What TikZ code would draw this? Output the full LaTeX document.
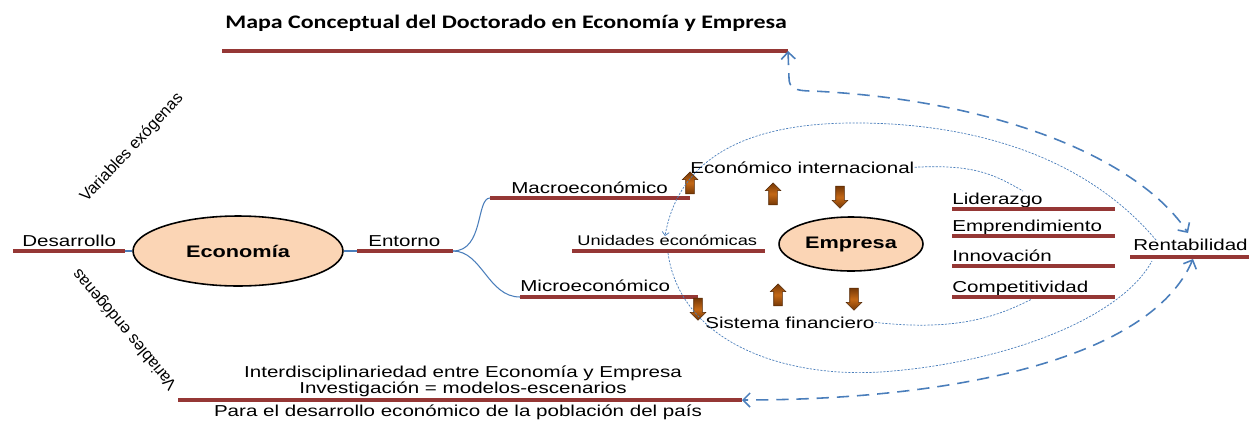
\documentclass[tikz,border=0pt]{standalone}
\usepackage{fontspec}
\setmainfont[FakeStretch=1.3]{Liberation Sans}
\newfontfamily\titulo[FakeStretch=1.25]{Carlito}
\newfontfamily\rotada{Liberation Sans}
\usepackage{tikz}
\usetikzlibrary{shapes,arrows,arrows.meta,positioning}
\definecolor{rojobarra}{RGB}{149,55,53}
\definecolor{durazno}{RGB}{251,213,181}
\definecolor{azul}{RGB}{74,126,187}
\definecolor{cafe}{RGB}{118,56,6}
\definecolor{cafeclaro}{RGB}{196,104,22}
\tikzstyle{concepto}=[inner sep=0pt, anchor=base west, font=\fontsize{9}{10.5}\selectfont]
\tikzstyle{linea}=[draw=rojobarra, line width=2.3pt]
\tikzstyle{elipse}=[ellipse, draw=black, line width=0.9pt, fill=durazno, inner sep=0pt, font=\bfseries\fontsize{9.5}{11}\selectfont]
\tikzstyle{enlace}=[draw=azul, line width=0.6pt]
\tikzstyle{punteado}=[draw=azul, line width=0.4pt, dash pattern=on 1.2pt off 0.8pt]
\tikzstyle{discontinuo}=[draw=azul, line width=0.9pt, dash pattern=on 7pt off 4.5pt, {Straight Barb[length=4pt,width=8pt]}-{Straight Barb[length=4pt,width=8pt]}]
\tikzstyle{flecha}=[single arrow, draw=cafe!70!black, line width=0.3pt, top color=cafe, bottom color=cafe, middle color=cafeclaro, minimum height=0.44cm, inner xsep=0pt, inner ysep=0.08cm, single arrow head extend=0.07cm]
\tikzstyle{girado}=[inner sep=0pt, font=\rotada\fontsize{9.3}{11}\selectfont]

\begin{document}
\begin{tikzpicture}[x=0.02cm, y=-0.02cm]
    \useasboundingbox (0,0) rectangle (1249,420);

    \node (titulo) [anchor=base west, inner sep=0pt, font=\titulo\bfseries\fontsize{10.9}{13}\selectfont] at (225,28)
        {Mapa Conceptual del Doctorado en Economía y Empresa};
    \draw[linea] (222,51) coordinate (tituloL) -- (788,51) coordinate (tituloR);

    \node (exo) [girado, rotate=47] at (132,148) {Variables exógenas};
    \node (endo) [girado, rotate=130] at (125,329) {Variables endógenas};

    \node (econ) [elipse, minimum width=4.2cm, minimum height=1.4cm] at (238,251) {Economía};
    \node (empresa) [elipse, minimum width=2.88cm, minimum height=1.08cm] at (851,244) {Empresa};

    \node (desa) [concepto] at (22,246) {Desarrollo};
    \draw[linea] (13,251) coordinate (desaL) -- (125,251) coordinate (desaR);
    \node (entorno) [concepto] at (368,246) {Entorno};
    \draw[linea] (357,251) coordinate (entornoL) -- (453,251) coordinate (entornoR);
    \node (macro) [concepto] at (511,193) {Macroeconómico};
    \draw[linea] (490,198) coordinate (macroL) -- (690,198) coordinate (macroR);
    \node (micro) [concepto] at (520,291) {Microeconómico};
    \draw[linea] (520,297) coordinate (microL) -- (698,297) coordinate (microR);
    \node (unid) [concepto, font=\fontsize{8}{9.5}\selectfont] at (577,245) {Unidades económicas};
    \draw[linea] (572,251) coordinate (unidL) -- (765,251) coordinate (unidR);
    \node (intl) [concepto] at (690,173) {Económico internacional};
    \node (sist) [concepto] at (705,328) {Sistema financiero};

    \node (lid) [concepto] at (952,204) {Liderazgo};
    \draw[linea] (952,209) -- (1115,209) coordinate (lidR);
    \node (empr) [concepto] at (952,231) {Emprendimiento};
    \draw[linea] (952,236) -- (1115,236);
    \node (innov) [concepto] at (952,261) {Innovación};
    \draw[linea] (952,266) -- (1115,266);
    \node (comp) [concepto] at (952,292) {Competitividad};
    \draw[linea] (952,297) -- (1115,297) coordinate (compR);
    \node (rent) [concepto] at (1133,250) {Rentabilidad};
    \draw[linea] (1130,257) coordinate (rentL) -- (1249,257) coordinate (rentR);

    \node (inter) [inner sep=0pt, anchor=base, font=\fontsize{9}{10.5}\selectfont] at (463,377) {Interdisciplinariedad entre Economía y Empresa};
    \node (inves) [inner sep=0pt, anchor=base, font=\fontsize{9}{10.5}\selectfont] at (463,393) {Investigación = modelos-escenarios};
    \draw[linea] (178,400) coordinate (pieL) -- (742,400) coordinate (pieR);
    \node (para) [inner sep=0pt, anchor=base, font=\fontsize{9}{10.5}\selectfont] at (458,416) {Para el desarrollo económico de la población del país};

    \node (f1) [flecha, rotate=90] at (690,185) {};
    \node (f2) [flecha, rotate=90] at (773,196) {};
    \node (f3) [flecha, rotate=-90] at (840,195) {};
    \node (f4) [flecha, rotate=-90] at (698,307) {};
    \node (f5) [flecha, rotate=90] at (778,297) {};
    \node (f6) [flecha, rotate=-90] at (854,297) {};

    \coordinate (lidArriba) at (1023,191);
    \coordinate (compAbajo) at (1032,299);
    \coordinate (rentArriba) at (1156,240);
    \coordinate (rentAbajo) at (1152,261);
    \coordinate (unidArriba) at (665,236);
    \coordinate (unidAbajo) at (668,253);
    \coordinate (rentFlechaA) at (1188,233);
    \coordinate (rentFlechaB) at (1193,259);

    \draw[enlace] (desaR) -- (econ);
    \draw[enlace] (econ) -- (entornoL);
    \draw[enlace] (entornoR) .. controls (484,251) and (476,198) .. (macroL);
    \draw[enlace] (entornoR) .. controls (482,251) and (488,297) .. (microL);

    \draw[punteado] (intl.east) .. controls (975,164) and (995,175) .. (lidArriba);
    \draw[punteado] (sist.east) .. controls (960,332) and (1000,315) .. (compAbajo);
    \draw[punteado, -{Straight Barb[length=2pt,width=4pt]}] (rentArriba) .. controls (1080,150) and (960,122) .. (850,123)
        .. controls (740,124) and (678,162) .. (unidArriba);
    \draw[punteado] (unidAbajo) .. controls (680,340) and (780,378) .. (880,372)
        .. controls (1000,364) and (1120,320) .. (rentAbajo);

    \draw[discontinuo] (tituloR) -- (789,78) .. controls (789,88) and (795,91) .. (812,91)
        .. controls (1000,100) and (1140,160) .. (rentFlechaA);
    \draw[discontinuo] (rentFlechaB) .. controls (1150,360) and (950,400) .. (pieR);
\end{tikzpicture}
\end{document}
